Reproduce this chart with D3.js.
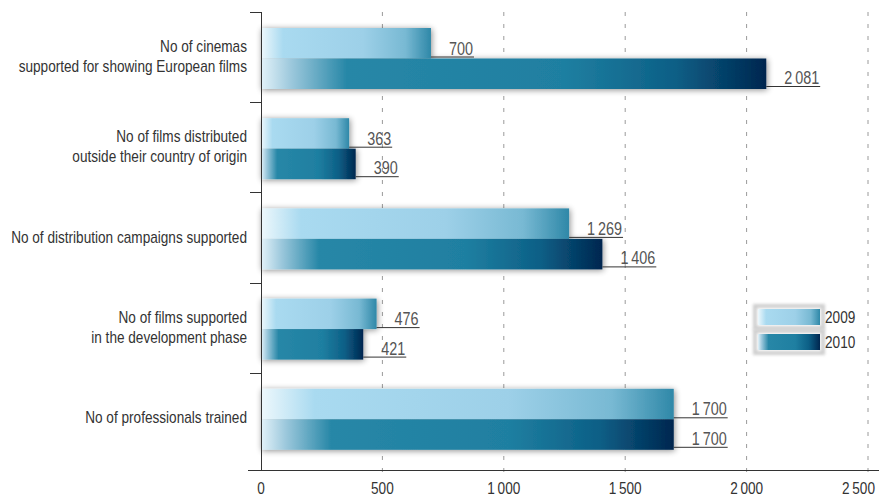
<!DOCTYPE html>
<html>
<head>
<meta charset="utf-8">
<script src="https://cdn.jsdelivr.net/npm/d3@7"></script>
<style>
  body { margin: 0; background: #fff; }
  svg { display: block; font-family: "Liberation Sans", Arial, sans-serif; }
</style>
</head>
<body>
<div id="chart"></div>
<script>
"use strict";
//chart values
var categories = [
  "No of cinemas\nsupported for showing European films",
  "No of films distributed\noutside their country of origin",
  "No of distribution campaigns supported",
  "No of films supported\nin the development phase",
  "No of professionals trained"
];
var series = ["2009", "2010"];
var values2009 = [700, 363, 1269, 476, 1700];
var values2010 = [2081, 390, 1406, 421, 1700];
var xTicks = [0, 500, 1000, 1500, 2000, 2500];

var w = 879, h = 497;
//the original uses a condensed face, so texts are squeezed horizontally
var squeeze = 0.8;

var svg = d3.select("#chart").append("svg")
  .attr("width", w)
  .attr("height", h);

var x = d3.scaleLinear().domain([0, 2500]).range([261, 868]);
var y = d3.scaleBand().domain(d3.range(categories.length)).range([12, 463]);
var sub = d3.scaleBand().domain(series).range([16, 77]);
var axisY = 470;

//thin space as thousands separator
var fmt = d3.formatLocale({ decimal: ".", thousands: "\u2009", grouping: [3], currency: ["", ""] }).format(",");

//sets squeezed length and keeps it on the node
function condense(sel) {
  sel.each(function() {
    var len = this.getComputedTextLength() * squeeze;
    this.__len = len;
    d3.select(this)
      .attr("textLength", len)
      .attr("lengthAdjust", "spacingAndGlyphs");
  });
}

var defs = svg.append("defs");

var g1 = defs.append("linearGradient").attr("id", "grad2009");
[[0, "#eef8fc"], [0.13, "#a9daf0"], [0.6, "#9dd0e8"], [0.85, "#78b9d3"], [1, "#2f88a8"]].forEach(function(s) {
  g1.append("stop").attr("offset", s[0]).attr("stop-color", s[1]);
});
var g2 = defs.append("linearGradient").attr("id", "grad2010");
[[0, "#e3f2f9"], [0.06, "#9cc8dc"], [0.17, "#2787a7"], [0.6, "#1f7fa1"], [0.82, "#0c5f86"], [1, "#00264f"]].forEach(function(s) {
  g2.append("stop").attr("offset", s[0]).attr("stop-color", s[1]);
});

var shadow = defs.append("filter").attr("id", "shadow")
  .attr("x", "-10%").attr("y", "-30%").attr("width", "130%").attr("height", "160%");
shadow.append("feGaussianBlur").attr("in", "SourceAlpha").attr("stdDeviation", 3);
shadow.append("feOffset").attr("dx", 1).attr("dy", 1).attr("result", "b");
shadow.append("feComponentTransfer").append("feFuncA").attr("type", "linear").attr("slope", 0.45);
var merge = shadow.append("feMerge");
merge.append("feMergeNode");
merge.append("feMergeNode").attr("in", "SourceGraphic");

var glow = defs.append("filter").attr("id", "glow")
  .attr("x", "-20%").attr("y", "-50%").attr("width", "140%").attr("height", "200%");
glow.append("feGaussianBlur").attr("stdDeviation", 1.8);

//gridlines
svg.append("g").selectAll("line")
  .data(xTicks.slice(1))
  .join("line")
  .attr("x1", function(d) { return x(d); })
  .attr("x2", function(d) { return x(d); })
  .attr("y1", 12)
  .attr("y2", 477)
  .attr("stroke", "#9a9a9a")
  .attr("stroke-dasharray", "4,8");

//bars
var rows = categories.map(function(c, i) {
  return { i: i, v: [values2009[i], values2010[i]] };
});

var groups = svg.append("g").selectAll("g")
  .data(rows)
  .join("g")
  .attr("filter", "url(#shadow)");

groups.selectAll("rect")
  .data(function(d) {
    return series.map(function(s, k) { return { i: d.i, s: s, v: d.v[k] }; });
  })
  .join("rect")
  .attr("x", x(0))
  .attr("y", function(d) { return y(d.i) + sub(d.s); })
  .attr("width", function(d) { return x(d.v) - x(0); })
  .attr("height", sub.bandwidth())
  .attr("fill", function(d) { return "url(#grad" + d.s + ")"; });

//value labels with underline
var labels = svg.append("g");
rows.forEach(function(r) {
  series.forEach(function(s, k) {
    var v = r.v[k];
    var bx = x(v);
    var ly = y(r.i) + sub(s) + sub.bandwidth() - (k == 0 ? 2 : 3);
    var t = labels.append("text")
      .attr("x", bx + 18)
      .attr("y", ly - 2)
      .attr("font-size", 18)
      .attr("fill", "#555")
      .text(fmt(v))
      .call(condense);
    var tw = t.node().__len;
    labels.append("line")
      .attr("x1", bx)
      .attr("x2", bx + 18 + tw + 1)
      .attr("y1", ly + 0.5)
      .attr("y2", ly + 0.5)
      .attr("stroke", "#333");
  });
});

//axes
svg.append("line")
  .attr("x1", x(0) + 0.5).attr("x2", x(0) + 0.5)
  .attr("y1", 12).attr("y2", axisY)
  .attr("stroke", "#333");
svg.append("line")
  .attr("x1", 248).attr("x2", w)
  .attr("y1", axisY + 0.5).attr("y2", axisY + 0.5)
  .attr("stroke", "#333");
svg.append("g").selectAll("line")
  .data(d3.range(categories.length))
  .join("line")
  .attr("x1", 250).attr("x2", x(0))
  .attr("y1", function(d) { return Math.round(y(d)) + 0.5; })
  .attr("y2", function(d) { return Math.round(y(d)) + 0.5; })
  .attr("stroke", "#333");

//tick labels squeezed with a transform so their box stays true
svg.append("g").selectAll("text")
  .data(xTicks)
  .join("text")
  .attr("font-size", 17)
  .attr("fill", "#333")
  .attr("text-anchor", "middle")
  .text(function(d) { return fmt(d); })
  .attr("transform", function(d) {
    var half = this.getComputedTextLength() * squeeze / 2;
    var cx = Math.min(x(d), w - 4 - half);
    return "translate(" + cx + ",494) scale(" + squeeze + ",1)";
  });

//category labels, one text per line
var catLines = [];
categories.forEach(function(c, i) {
  var lines = c.split("\n");
  var cy = y(i) + y.bandwidth() / 2;
  var top = cy - (lines.length - 1) * 10 + 5;
  lines.forEach(function(l, j) {
    catLines.push({ text: l, y: top + j * 20 });
  });
});
svg.append("g").selectAll("text")
  .data(catLines)
  .join("text")
  .attr("x", 247)
  .attr("y", function(d) { return d.y; })
  .attr("text-anchor", "end")
  .attr("font-size", 17)
  .attr("fill", "#333")
  .text(function(d) { return d.text; })
  .call(condense);

//legend
var legend = svg.append("g").selectAll("g")
  .data(series)
  .join("g")
  .attr("transform", function(d, i) { return "translate(758," + (309 + i * 25) + ")"; });
legend.append("rect")
  .attr("x", -3).attr("y", -3).attr("width", 68).attr("height", 22)
  .attr("fill", "none")
  .attr("stroke", "#cfcfcf")
  .attr("stroke-width", 4)
  .attr("filter", "url(#glow)");
legend.append("rect")
  .attr("width", 62).attr("height", 16)
  .attr("fill", function(d) { return "url(#grad" + d + ")"; });
legend.append("text")
  .attr("x", 67).attr("y", 14)
  .attr("font-size", 17)
  .attr("fill", "#333")
  .text(function(d) { return d; })
  .call(condense);
</script>
</body>
</html>
